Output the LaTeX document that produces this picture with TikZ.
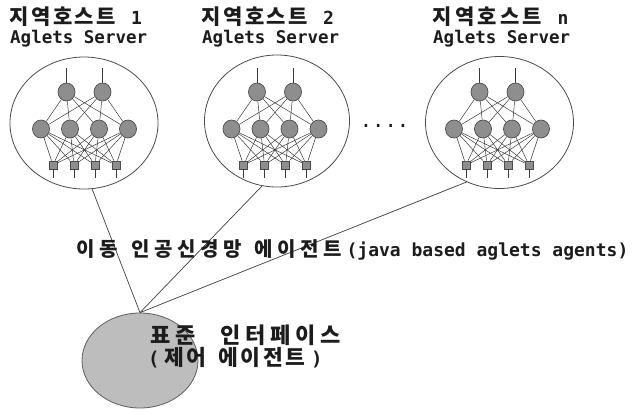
\documentclass[tikz,border=0pt]{standalone}
\usepackage{fontspec}
\usetikzlibrary{shapes.geometric}
\newfontfamily\kr{Noto Sans CJK KR}
\newfontfamily\mono{DejaVu Sans Mono}
\definecolor{txt}{HTML}{1C1C1C}
\definecolor{rim}{HTML}{4A4A4A}
\definecolor{nodefill}{HTML}{8E8E8E}
\definecolor{nodeline}{HTML}{4C4C4C}
\definecolor{syncol}{HTML}{3A3A3A}
\definecolor{linkcol}{HTML}{404040}
\definecolor{ifacefill}{HTML}{BDBDBD}
\definecolor{ifaceline}{HTML}{5E5E5E}
\tikzset{
  host/.style={ellipse, draw=rim, line width=0.8pt, minimum width=148pt, minimum height=132pt, inner sep=0pt},
  neuron/.style={ellipse, draw=nodeline, fill=nodefill, line width=0.7pt, minimum width=17pt, minimum height=18pt, inner sep=0pt},
  unitbox/.style={rectangle, draw=nodeline, fill=nodefill, line width=0.7pt, minimum size=8pt, inner sep=0pt},
  syn/.style={draw=syncol, line width=0.5pt},
  link/.style={draw=linkcol, line width=0.7pt},
  lbl/.style={inner sep=0pt, anchor=base west, text=txt},
  iface/.style={ellipse, draw=ifaceline, fill=ifacefill, line width=0.8pt, minimum width=116pt, minimum height=95pt, inner sep=0pt}
}
% #1 font size, #2 cell advance, #3 comma list of syllables
\newcommand\hseq[3]{{\kr\bfseries\fontsize{#1}{#1}\selectfont\foreach \c in {#3}{\makebox[#2][c]{\c}}}}
\newcommand\latin[2]{{\mono\bfseries\fontsize{#1}{#1}\selectfont #2}}
\newcommand\neuralnet[2]{%
  \node[neuron] (#1t1) at ({#2-18},92) {};
  \node[neuron] (#1t2) at ({#2+18},92) {};
  \coordinate (#1i1) at ({#2-18},68);
  \coordinate (#1i2) at ({#2+18},68);
  \foreach \i/\dx in {1/-43.5,2/-14.5,3/14.5,4/43.5}
    {\node[neuron] (#1m\i) at ({#2+(\dx)},129) {};}
  \foreach \i/\dx in {1/-31.5,2/-10.5,3/10.5,4/31.5}
    {\node[unitbox] (#1s\i) at ({#2+(\dx)},165) {};
     \coordinate (#1o\i) at ({#2+(\dx)},178);}
  \foreach \a in {1,2} {\draw[syn] (#1i\a) -- (#1t\a);}
  \foreach \a in {1,2} {\foreach \b in {1,...,4} {\draw[syn] (#1t\a) -- (#1m\b);}}
  \foreach \a in {1,...,4} {\foreach \b in {1,...,4} {\draw[syn] (#1m\a) -- (#1s\b);}}
  \foreach \a in {1,...,4} {\draw[syn] (#1s\a) -- (#1o\a);}
}
\begin{document}
\begin{tikzpicture}[x=1pt, y=-1pt]
\useasboundingbox (0,0) rectangle (636,413);
\fill[white] (0,0) rectangle (636,413);

% host labels
\node[lbl] (k1) at (8,24) {\hseq{21}{21.8pt}{지,역,호,스,트}\hspace{14pt}\latin{18}{1}};
\node[lbl] (a1) at (10,43) {\latin{17.5}{Aglets Server}};
\node[lbl] (k2) at (200,24) {\hseq{21}{21.8pt}{지,역,호,스,트}\hspace{14pt}\latin{18}{2}};
\node[lbl] (a2) at (202,43) {\latin{17.5}{Aglets Server}};
\node[lbl] (k3) at (431,24) {\hseq{21}{22.5pt}{지,역,호,스,트}\hspace{14pt}\latin{18}{n}};
\node[lbl] (a3) at (433,43) {\latin{17.5}{Aglets Server}};

% hosts
\node[host] (c1) at (84,123) {};
\node[host, minimum width=145pt] (c2) at (277,121) {};
\node[host] (c3) at (499.5,122.5) {};

\neuralnet{p}{84.5}
\neuralnet{q}{275}
\neuralnet{r}{497.5}

\node[inner sep=0pt, text=txt] (dots) at (384.5,126) {{\mono\fontsize{20.5}{20.5}\selectfont ....}};

% interface
\node[iface] (b) at (140,360.5) {};

\draw[link] (c1.-83) -- (b.north);
\draw[link] (c2.-103.6) -- (b.north);
\draw[link] (c3.-119.7) -- (b.north);

\node[lbl] (mid) at (74,256) {\hseq{20}{23pt}{이,동}\hspace{8.7pt}\hseq{20}{23pt}{인,공,신,경,망}\hspace{8.7pt}\hseq{20}{23pt}{에,이,전,트}\hspace{2pt}\latin{18}{(java based aglets agents)}};

\node[lbl] (if1) at (147.5,343) {\hseq{22}{25pt}{표,준}\hspace{20pt}\hseq{22}{25pt}{인,터,페,이,스}};
\node[lbl] (if2) at (148,365) {\latin{19}{(}\hspace{3pt}\hseq{21.5}{22.5pt}{제,어}\hspace{9.5pt}\hseq{21.5}{22.5pt}{에,이,전,트}\hspace{4pt}\latin{19}{)}};
\end{tikzpicture}
\end{document}
